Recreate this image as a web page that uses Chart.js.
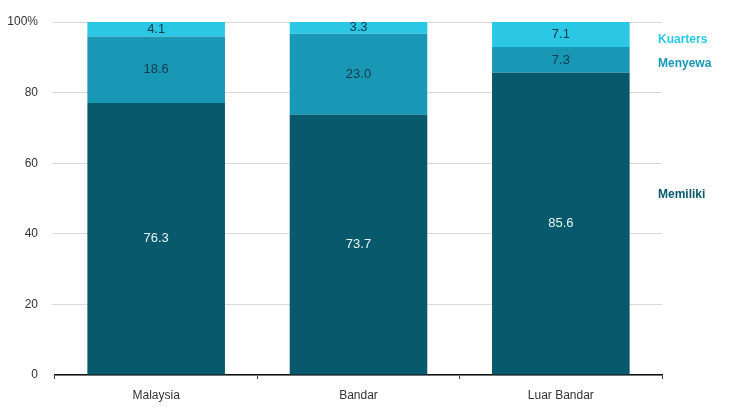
<!DOCTYPE html>
<html>
<head>
<meta charset="utf-8">
<script src="https://cdn.jsdelivr.net/npm/chart.js@4"></script>
<style>
  html, body { margin: 0; padding: 0; background: #ffffff; }
  #wrap { width: 737px; height: 408px; }
</style>
</head>
<body>
<div id="wrap"><canvas id="c"></canvas></div>
<script>
const categories = ['Malaysia', 'Bandar', 'Luar Bandar'];
const seriesNames = ['Memiliki', 'Menyewa', 'Kuarters'];
const memiliki = [76.3, 73.7, 85.6];
const menyewa = [18.6, 23.0, 7.3];
const kuarters = [4.1, 3.3, 7.1];
const yTicks = [0, 20, 40, 60, 80, 100];

const colors = ['#07596b', '#1898b4', '#2bc8e6'];
const labelColors = ['#e6f4f6', '#16394a', '#16394a'];
const sideLabelY = [51, 88.3, 95];

// 100% stacked: each column scaled so its parts fill 100
const raw = [memiliki, menyewa, kuarters];
const totals = categories.map((_, j) => raw.reduce((s, arr) => s + arr[j], 0));
const shares = raw.map(arr => arr.map((v, j) => v / totals[j] * 100));

const valueLabels = {
  id: 'valueLabels',
  afterDatasetsDraw(chart) {
    const ctx = chart.ctx;
    ctx.save();
    ctx.font = '13px "Liberation Sans", Arial, sans-serif';
    ctx.textAlign = 'center';
    ctx.textBaseline = 'middle';
    chart.data.datasets.forEach((ds, i) => {
      const meta = chart.getDatasetMeta(i);
      meta.data.forEach((bar, j) => {
        const p = bar.getProps(['x', 'y', 'base'], true);
        ctx.fillStyle = labelColors[i];
        ctx.fillText(raw[i][j].toFixed(1), p.x, (p.y + p.base) / 2);
      });
    });
    const ys = chart.scales.y;
    ctx.font = 'bold 12px "Liberation Sans", Arial, sans-serif';
    ctx.textAlign = 'left';
    seriesNames.forEach((n, i) => {
      ctx.fillStyle = colors[i];
      ctx.fillText(n, chart.chartArea.right - 4, ys.getPixelForValue(sideLabelY[i]));
    });
    ctx.restore();
  }
};

new Chart(document.getElementById('c'), {
  type: 'bar',
  data: {
    labels: categories,
    datasets: [
      { label: seriesNames[0], data: shares[0], backgroundColor: colors[0] },
      { label: seriesNames[1], data: shares[1], backgroundColor: colors[1] },
      { label: seriesNames[2], data: shares[2], backgroundColor: colors[2] }
    ]
  },
  options: {
    responsive: true,
    maintainAspectRatio: false,
    animation: false,
    layout: { padding: { left: 2, right: 75, top: 22, bottom: 0 } },
    plugins: { legend: { display: false }, tooltip: { enabled: false }, title: { display: false } },
    datasets: { bar: { barPercentage: 0.68, categoryPercentage: 1.0, borderWidth: 0 } },
    scales: {
      x: {
        stacked: true,
        grid: { display: true, offset: true, drawOnChartArea: false, drawTicks: true, tickLength: 4, tickColor: '#444' },
        border: { display: true, color: '#111', width: 1.5 },
        ticks: { color: '#333', font: { family: '"Liberation Sans", Arial, sans-serif', size: 12 }, padding: 9 },
        afterFit(s) { s.height = 33; }
      },
      y: {
        stacked: true,
        min: 0, max: 100,
        afterBuildTicks(s) { s.ticks = yTicks.map(v => ({ value: v })); },
        grid: { color: '#d8d8d8', lineWidth: 1, drawTicks: true, tickLength: 3, tickColor: '#d8d8d8' },
        border: { display: false },
        ticks: {
          color: '#333',
          font: { family: '"Liberation Sans", Arial, sans-serif', size: 12 },
          padding: 14,
          callback: v => v === 100 ? '100%' : String(v)
        },
        afterFit(s) { s.width = 53; }
      }
    }
  },
  plugins: [valueLabels]
});
</script>
</body>
</html>
